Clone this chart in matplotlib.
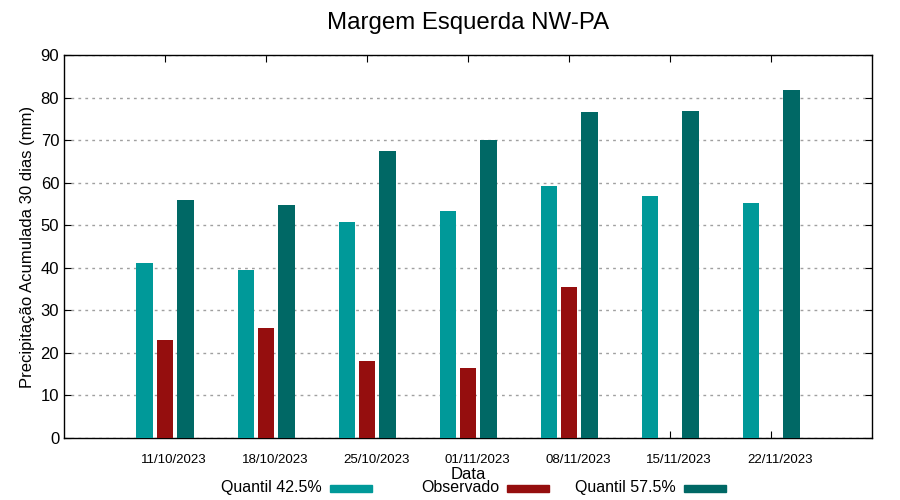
import numpy as np
import matplotlib.pyplot as plt
import matplotlib.transforms as mtransforms
from matplotlib.patches import Rectangle

plt.rcParams['font.family'] = ['Liberation Sans', 'DejaVu Sans']

# dados
datas = ['11/10/2023', '18/10/2023', '25/10/2023', '01/11/2023',
         '08/11/2023', '15/11/2023', '22/11/2023']
q425 = [41.1, 39.5, 50.7, 53.3, 59.2, 56.9, 55.2]
observado = [23.0, 25.8, 18.1, 16.4, 35.5, np.nan, np.nan]
q575 = [55.9, 54.7, 67.4, 70.0, 76.6, 76.8, 81.8]

cor_q425 = '#009999'
cor_obs = '#950e0e'
cor_q575 = '#006865'

fig = plt.figure(figsize=(9, 5), dpi=100)
ax = fig.add_axes([0.0711, 0.124, 0.898, 0.766])

x = np.arange(len(datas))
w = 0.165
ax.bar(x - 0.2, q425, w, color=cor_q425, zorder=3)
ax.bar(x, observado, w, color=cor_obs, zorder=3)
ax.bar(x + 0.2, q575, w, color=cor_q575, zorder=3)

ax.set_xlim(-1, 7)
ax.set_ylim(0, 90)
ax.set_yticks(range(0, 91, 10))
ax.tick_params(axis='y', labelsize=12, direction='in', right=True, length=5)
ax.set_xticks(x)
ax.set_xticklabels(datas, fontsize=9.5)
ax.tick_params(axis='x', direction='in', top=True, length=5, pad=11.5)
desloc = mtransforms.ScaledTranslation(9 / 100, 0, fig.dpi_scale_trans)
for lb in ax.get_xticklabels():
    lb.set_transform(lb.get_transform() + desloc)
ax.grid(axis='y', color='#a0a0a0', linestyle=(0, (2, 3)), linewidth=1, zorder=0)
for s in ax.spines.values():
    s.set_linewidth(1)

ax.set_title('Margem Esquerda NW-PA', fontsize=17.3, pad=19)
ax.set_ylabel('Precipitação Acumulada 30 dias (mm)', fontsize=12, labelpad=4)
ax.set_xlabel('Data', fontsize=12, labelpad=0.5)

# legenda no estilo gnuplot (texto alinhado à direita, amostra depois)
legenda = [('Quantil 42.5%', cor_q425), ('Observado', cor_obs), ('Quantil 57.5%', cor_q575)]
for i, (txt, cor) in enumerate(legenda):
    xd = (322 + 177 * i) / 900
    fig.text(xd, 1 - 492 / 500, txt, ha='right', va='baseline', fontsize=11.5)
    fig.add_artist(Rectangle((xd + 8 / 900, 1 - 492 / 500), 42 / 900, 7 / 500,
                             color=cor, transform=fig.transFigure))

fig.savefig('out.png', dpi=100)
